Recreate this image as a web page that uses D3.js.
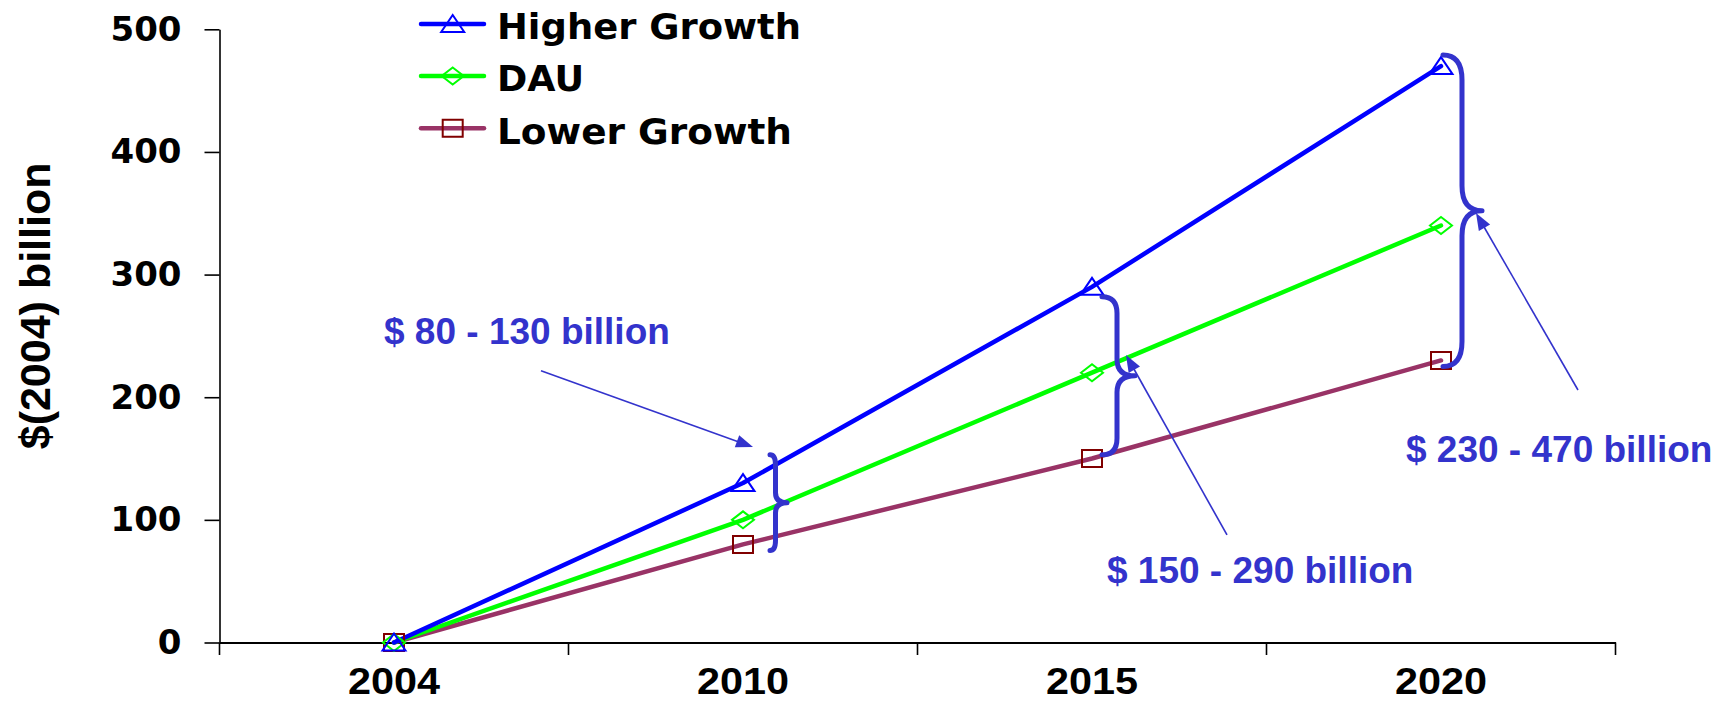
<!DOCTYPE html>
<html>
<head>
<meta charset="utf-8">
<script src="https://cdn.jsdelivr.net/npm/d3@7/dist/d3.min.js"></script>
<style>
  html, body { margin: 0; padding: 0; background: #fff; }
  svg { display: block; }
</style>
</head>
<body>
<svg id="chart" width="1722" height="703"></svg>
<script>
// ---------------- data ----------------
const categories = ["2004", "2010", "2015", "2020"];
const higherGrowth = [0, 130, 290, 470];
const dau = [0, 100, 220, 340];
const lowerGrowth = [0, 80, 150, 230];
const yTicks = [0, 100, 200, 300, 400, 500];
const seriesNames = ["Higher Growth", "DAU", "Lower Growth"];

// range annotations (category, brace extent in value units, label)
const rangeCats = ["2010", "2015", "2020"];
const rangeLabels = ["$ 80 - 130 billion", "$ 150 - 290 billion", "$ 230 - 470 billion"];
const braceLo = [75, 153, 225];
const braceHi = [153, 282, 479];

// ---------------- layout ----------------
const W = 1722, H = 703;
const svg = d3.select("#chart");
svg.append("rect").attr("width", W).attr("height", H).attr("fill", "#fff");

const x = d3.scaleBand().domain(categories).range([219.5, 1615.5]).padding(0);
const y = d3.scaleLinear().domain([0, 500]).range([642.5, 29.3]);
const cx = c => x(c) + x.bandwidth() / 2;

const annColor = "#3333CC";

// ---------------- axes ----------------
const yAxis = d3.axisLeft(y).tickValues(yTicks).tickSize(15).tickSizeOuter(0).tickPadding(23);
const gy = svg.append("g").attr("transform", `translate(${x.range()[0]},0)`).call(yAxis);
gy.select(".domain").attr("stroke", "#000").attr("stroke-width", 1.6);
gy.selectAll(".tick line").attr("stroke", "#000").attr("stroke-width", 1.6);
gy.selectAll(".tick text")
  .attr("font-family", "DejaVu Sans")
  .attr("font-weight", "bold")
  .attr("font-size", 34)
  .attr("fill", "#000");

// x axis: labels at band centers, ticks at band boundaries
const xAxis = d3.axisBottom(x).tickSize(0).tickSizeOuter(0).tickPadding(25);
const gx = svg.append("g").attr("transform", `translate(0,${y(0)})`).call(xAxis);
gx.select(".domain").attr("stroke", "#000").attr("stroke-width", 2);
gx.selectAll(".tick text")
  .attr("font-family", "Liberation Sans, Arial, sans-serif")
  .attr("font-weight", "bold")
  .attr("font-size", 37)
  .attr("fill", "#000")
  .attr("textLength", 92)
  .attr("lengthAdjust", "spacingAndGlyphs");

const boundaries = categories.map(c => x(c)).concat([x.range()[1]]);
svg.append("g").selectAll("line").data(boundaries).join("line")
  .attr("x1", d => d).attr("x2", d => d)
  .attr("y1", y(0)).attr("y2", y(0) + 12.5)
  .attr("stroke", "#000").attr("stroke-width", 1.6);

// y axis title
svg.append("text")
  .attr("transform", `translate(50,${(y(0) + y(500)) / 2 - 30}) rotate(-90)`)
  .attr("text-anchor", "middle")
  .attr("font-family", "Liberation Sans, Arial, sans-serif")
  .attr("font-weight", "bold")
  .attr("font-size", 43)
  .attr("fill", "#000")
  .text("$(2004) billion");

// ---------------- series ----------------
const series = [
  { name: seriesNames[2], values: lowerGrowth, line: "#993366", mark: "#800000", shape: "square" },
  { name: seriesNames[1], values: dau, line: "#00FF00", mark: "#00FF00", shape: "diamond" },
  { name: seriesNames[0], values: higherGrowth, line: "#0000FF", mark: "#0000FF", shape: "triangle" }
];

const lineGen = d3.line().x((d, i) => cx(categories[i])).y(d => y(d));

function markerPath(shape) {
  if (shape === "triangle") return "M0,-9L11.5,8L-11.5,8Z";
  if (shape === "diamond") return "M0,-8.5L11,0L0,8.5L-11,0Z";
  return "M-10,-8.5L10,-8.5L10,8.5L-10,8.5Z";
}

series.forEach(s => {
  svg.append("path")
    .attr("d", lineGen(s.values))
    .attr("fill", "none")
    .attr("stroke", s.line)
    .attr("stroke-width", 4.5)
    .attr("stroke-linejoin", "round")
    .attr("stroke-linecap", "round");
});
series.forEach(s => {
  svg.append("g").selectAll("path").data(s.values).join("path")
    .attr("transform", (d, i) => `translate(${cx(categories[i])},${y(d)})`)
    .attr("d", markerPath(s.shape))
    .attr("fill", "none")
    .attr("stroke", s.mark)
    .attr("stroke-width", 2);
});

// ---------------- legend ----------------
const legendItems = [series[2], series[1], series[0]];
const legendRowY = [24, 76, 128.3];
const legendTextLen = [304, 87, 295];
const lg = svg.append("g");
legendItems.forEach((s, i) => {
  const ly = legendRowY[i];
  lg.append("line")
    .attr("x1", 421).attr("x2", 484).attr("y1", ly).attr("y2", ly)
    .attr("stroke", s.line).attr("stroke-width", 4.5).attr("stroke-linecap", "round");
  lg.append("path")
    .attr("transform", `translate(452.7,${ly})`)
    .attr("d", markerPath(s.shape))
    .attr("fill", "none")
    .attr("stroke", s.mark)
    .attr("stroke-width", 2);
  lg.append("text")
    .attr("x", 497).attr("y", ly + 15.3)
    .attr("font-family", "DejaVu Sans")
    .attr("font-weight", "bold")
    .attr("font-size", 35)
    .attr("fill", "#000")
    .attr("textLength", legendTextLen[i])
    .attr("lengthAdjust", "spacingAndGlyphs")
    .text(s.name);
});

// ---------------- annotations ----------------
// brace horizontal offsets from category centre: end, vertical stroke, tip
const braceDx = [[27, 32.5, 44], [10, 25, 43], [2, 21, 41]];
function bracePath(xe, xv, xt, yTop, yBot) {
  const ym = (yTop + yBot) / 2;
  const r = Math.min(25, (yBot - yTop) / 2 * 0.21);
  return `M${xe},${yTop} Q${xv},${yTop} ${xv},${yTop + r} L${xv},${ym - r} ` +
         `Q${xv},${ym} ${xt},${ym} Q${xv},${ym} ${xv},${ym + r} ` +
         `L${xv},${yBot - r} Q${xv},${yBot} ${xe},${yBot}`;
}
rangeCats.forEach((c, i) => {
  const c0 = cx(c);
  const [de, dv, dt] = braceDx[i];
  svg.append("path")
    .attr("d", bracePath(c0 + de, c0 + dv, c0 + dt, y(braceHi[i]), y(braceLo[i])))
    .attr("fill", "none")
    .attr("stroke", annColor)
    .attr("stroke-width", 5)
    .attr("stroke-linecap", "round")
    .attr("stroke-linejoin", "round");
});

// labels: offset from category centre (px), baseline in value units
const labelDx = [-359, 15, -35];
const labelV = [243, 48.3, 147.2];
rangeCats.forEach((c, i) => {
  svg.append("text")
    .attr("x", cx(c) + labelDx[i])
    .attr("y", y(labelV[i]))
    .attr("font-family", "Liberation Sans, Arial, sans-serif")
    .attr("font-weight", "bold")
    .attr("font-size", 37)
    .attr("fill", annColor)
    .text(rangeLabels[i]);
});

// arrows: [startDx, startValue, tipDx, tipValue] relative to category centre
const arrowSpec = [[-202, 221.6, 10, 159.4], [135, 87.7, 34, 234.5], [137, 205.9, 35, 350.2]];
rangeCats.forEach((c, i) => {
  const c0 = cx(c);
  const [sdx, sv, tdx, tv] = arrowSpec[i];
  const sx = c0 + sdx, sy = y(sv), tx = c0 + tdx, ty = y(tv);
  const len = Math.hypot(tx - sx, ty - sy);
  const ux = (tx - sx) / len, uy = (ty - sy) / len;
  const L = 17, w = 6.5;
  const bx = tx - ux * L, by = ty - uy * L;
  svg.append("line")
    .attr("x1", sx).attr("y1", sy).attr("x2", bx + ux * 2).attr("y2", by + uy * 2)
    .attr("stroke", annColor).attr("stroke-width", 1.6);
  svg.append("path")
    .attr("d", `M${tx},${ty}L${bx - uy * w},${by + ux * w}L${bx + uy * w},${by - ux * w}Z`)
    .attr("fill", annColor);
});
</script>
</body>
</html>
